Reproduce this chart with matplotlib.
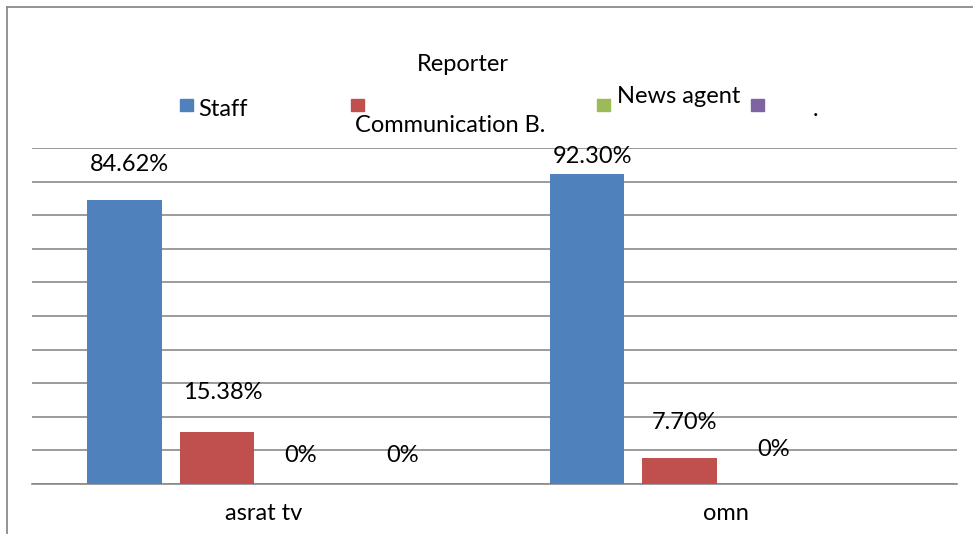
import matplotlib.pyplot as plt
from matplotlib.patches import Rectangle
from matplotlib.lines import Line2D

plt.rcParams['font.family'] = ['Lato', 'DejaVu Sans']

# data
categories = ['asrat tv', 'omn']
series = ['Staff', 'Communication B.', 'News agent', '.']
colors = ['#4F81BD', '#C0504D', '#9BBB59', '#8064A2']
values = [
    [0.8462, 0.9230],  # Staff
    [0.1538, 0.0770],  # Communication B.
    [0.0, 0.0],        # News agent
    [0.0, 0.0],        # .
]
labels = [
    ['84.62%', '92.30%'],
    ['15.38%', '7.70%'],
    ['0%', '0%'],
    ['0%', None],
]
# where Excel left each data label, in pixels from the bar top (dx, dy)
label_offsets = [
    [(5, 35), (6, 17)],
    [(6, 40), (5, 36)],
    [(-9, 28), (2, 34)],
    [(1, 28), None],
]

W, H = 973, 534
fs = 17
fig = plt.figure(figsize=(W / 100, H / 100), dpi=100)


def fx(px):
    return px / W


def fy(py):
    return 1 - py / H


ax = fig.add_axes([fx(32), fy(484), fx(957) - fx(32), fy(148) - fy(484)])

offsets = [-0.3, -0.1, 0.1, 0.3]
bar_w = 0.162
for s, name in enumerate(series):
    xs = [i + offsets[s] for i in range(len(categories))]
    ax.bar(xs, values[s], width=bar_w, color=colors[s], zorder=3)
    for i, x in enumerate(xs):
        if labels[s][i] is None:
            continue
        dx, dy = label_offsets[s][i]
        ax.annotate(labels[s][i], (x, values[s][i]), xytext=(dx, dy),
                    textcoords='offset pixels', ha='center', va='center',
                    fontsize=fs, color='black', zorder=4)

ax.set_xlim(-0.5, 1.5)
ax.set_ylim(0, 1.0)
ax.set_yticks([i / 10 for i in range(11)])
ax.yaxis.grid(True, color='#8a8a8a', linewidth=1.2, zorder=0)
ax.set_yticklabels([])
ax.tick_params(axis='y', length=0)
ax.set_xticks(range(len(categories)))
ax.set_xticklabels(categories, fontsize=fs)
ax.tick_params(axis='x', length=0, pad=14)
for side in ['left', 'right', 'top']:
    ax.spines[side].set_visible(False)
ax.spines['bottom'].set_color('#8a8a8a')
ax.spines['bottom'].set_linewidth(1.2)
ax.set_axisbelow(True)

# outer chart frame (only top and left edges show in the crop)
fig.add_artist(Line2D([fx(7), 1.0], [fy(7), fy(7)], color='#8a8a8a', linewidth=1.3))
fig.add_artist(Line2D([fx(7), fx(7)], [fy(7), 0.0], color='#8a8a8a', linewidth=1.3))

# legend, laid out the way Excel left it
fig.text(fx(463), fy(71), 'Reporter', ha='center', va='baseline', fontsize=fs)
marker_x = [180, 351, 597, 751]
text_pos = [(198, 116), (355, 132), (617, 103), (813, 116)]
for s, name in enumerate(series):
    fig.add_artist(Rectangle((fx(marker_x[s]), fy(111)), fx(13), fy(99) - fy(111),
                             transform=fig.transFigure, color=colors[s]))
    tx, ty = text_pos[s]
    fig.text(fx(tx), fy(ty), name, ha='left', va='baseline', fontsize=fs)

fig.savefig('out.png', dpi=100, facecolor='white')
